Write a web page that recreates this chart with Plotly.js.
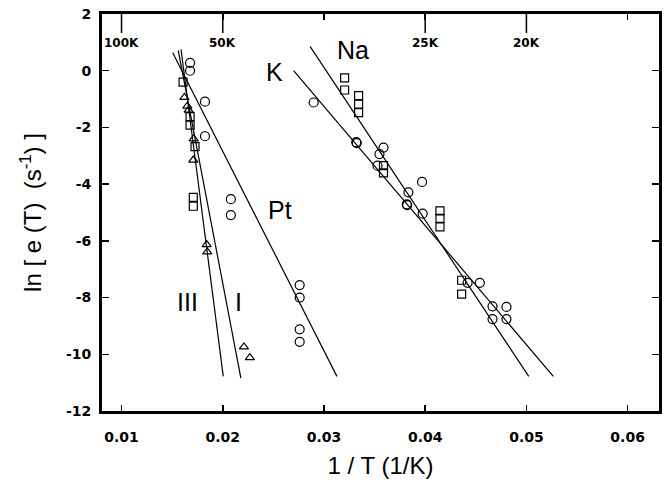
<!DOCTYPE html>
<html>
<head>
<meta charset="utf-8">
<script src="https://cdn.plot.ly/plotly-3.0.1.min.js"></script>
<style>html,body{margin:0;padding:0;background:#fff;}#chart{width:664px;height:487px;}</style>
</head>
<body>
<div id="chart"></div>
<script>
// ---- data (1/T in 1/K, ln e(T)) ----
// left cluster
const ptCircX = [0.01677, 0.01677, 0.01824, 0.01824, 0.0208, 0.0208, 0.0276, 0.0276, 0.0276, 0.0276];
const ptCircY = [0.28, 0.0, -1.09, -2.31, -4.53, -5.09, -7.56, -8.0, -9.12, -9.56];
const leftSqX = [0.01608, 0.01677, 0.01677, 0.01726, 0.01709, 0.01709];
const leftSqY = [-0.40, -1.62, -1.92, -2.68, -4.47, -4.78];
const triX = [0.01621, 0.0165, 0.01663, 0.01713, 0.01709, 0.01841, 0.01847, 0.02209, 0.02268];
const triY = [-0.94, -1.25, -1.39, -2.4, -3.15, -6.13, -6.39, -9.74, -10.12];
// right cluster
const rCircX = [0.02898, 0.03319, 0.03324, 0.03588, 0.03548, 0.03529, 0.03969, 0.03834, 0.03818, 0.03822, 0.03975, 0.04419, 0.0454, 0.04665, 0.04665, 0.04803, 0.04803];
const rCircY = [-1.12, -2.52, -2.55, -2.71, -2.94, -3.35, -3.92, -4.29, -4.71, -4.74, -5.04, -7.48, -7.48, -8.31, -8.76, -8.33, -8.76];
const rSqX = [0.03204, 0.03204, 0.03342, 0.03342, 0.03342, 0.03588, 0.03588, 0.04146, 0.04146, 0.04146, 0.0436, 0.0436];
const rSqY = [-0.25, -0.68, -0.88, -1.18, -1.48, -3.35, -3.6, -4.94, -5.21, -5.51, -7.39, -7.88];
// fitted lines (end points)
const lineIIIX = [0.01588, 0.02005];
const lineIIIY = [0.75, -10.78];
const lineIX = [0.01560, 0.02179];
const lineIY = [0.72, -10.84];
const linePtX = [0.01506, 0.03128];
const linePtY = [0.635, -10.78];
const lineNaX = [0.02864, 0.05023];
const lineNaY = [0.85, -10.78];
const lineKX = [0.0270, 0.05266];
const lineKY = [0.0, -10.78];
// ticks
const xTickVals = [0.01, 0.02, 0.03, 0.04, 0.05, 0.06];
const xTickText = ['0.01', '0.02', '0.03', '0.04', '0.05', '0.06'];
const topTickVals = [0.01, 0.02, 0.04, 0.05];
const topTickText = ['100K', '50K', '25K', '20K'];
const yTickVals = [-12, -10, -8, -6, -4, -2, 0, 2];
const yTickText = ['-12', '-10', '-8', '-6', '-4', '-2', '0', '2'];
// labels
const labelText = ['Na', 'K', 'Pt', 'III', 'I'];
const labelX = [0.03284, 0.02507, 0.02564, 0.01654, 0.0216];
const labelY = [0.73, -0.04, -4.9, -8.17, -8.17];

const lineStyle = {color: '#000', width: 1.2};
function ln(x, y) { return {x: x, y: y, mode: 'lines', line: lineStyle, hoverinfo: 'skip', showlegend: false}; }
function mk(x, y, sym, size) {
  return {x: x, y: y, mode: 'markers', showlegend: false,
    marker: {symbol: sym, size: size, color: '#000', line: {color: '#000', width: 1.2}}};
}
const traces = [
  ln(lineIIIX, lineIIIY), ln(lineIX, lineIY), ln(linePtX, linePtY), ln(lineNaX, lineNaY), ln(lineKX, lineKY),
  mk(ptCircX, ptCircY, 'circle-open', 9),
  mk(leftSqX, leftSqY, 'square-open', 8),
  mk(triX, triY, 'triangle-up-open', 8),
  mk(rCircX, rCircY, 'circle-open', 9),
  mk(rSqX, rSqY, 'square-open', 8)
];
const tickFont = {family: 'DejaVu Sans', size: 14, color: '#000', weight: 'bold'};
const xr = [0.00807, 0.0631];
const plotH = 487 - 14 - 76;
const annotations = labelText.map((t, i) => ({
  x: labelX[i], y: labelY[i], xref: 'x', yref: 'y', text: t, showarrow: false,
  font: {family: 'Liberation Sans', size: 25, color: '#000'}, xanchor: 'center', yanchor: 'middle'
})).concat(topTickText.map((t, i) => ({
  x: topTickVals[i], y: 1 - 29 / plotH, xref: 'x', yref: 'paper', text: t, showarrow: false,
  font: {family: 'DejaVu Sans', size: 12, color: '#000', weight: 'bold'}, xanchor: 'center', yanchor: 'middle'
})));
const shapes = topTickVals.map(v => ({
  type: 'line', xref: 'x', yref: 'paper', x0: v, x1: v, y0: 1, y1: 1 - 19 / plotH,
  line: {color: '#000', width: 1.5}
}));
const layout = {
  width: 664, height: 487,
  margin: {l: 102, r: 5, t: 14, b: 76},
  paper_bgcolor: '#fff', plot_bgcolor: '#fff',
  showlegend: false,
  xaxis: {
    range: xr, tickmode: 'array', tickvals: xTickVals, ticktext: xTickText,
    ticks: 'inside', ticklen: 6, tickwidth: 1.5, tickcolor: '#000',
    showline: true, linewidth: 3, linecolor: '#000', mirror: 'ticks',
    showgrid: false, zeroline: false, tickfont: tickFont, ticklabelstandoff: 11,
    title: {text: '1 / T (1/K)', font: {family: 'Liberation Sans', size: 24, color: '#000'}, standoff: 14}
  },
  yaxis: {
    range: [-12.001, 2.001], tickmode: 'array', tickvals: yTickVals, ticktext: yTickText,
    ticks: 'inside', ticklen: 7, tickwidth: 1.5, tickcolor: '#000',
    showline: true, linewidth: 3, linecolor: '#000', mirror: 'ticks',
    showgrid: false, zeroline: false, tickfont: tickFont, ticklabelstandoff: 5,
    title: {text: 'ln [ e (T)  (s<sup>-1</sup>) ]', font: {family: 'Liberation Sans', size: 24, color: '#000'}, standoff: 18}
  },
  annotations: annotations,
  shapes: shapes
};
Plotly.newPlot('chart', traces, layout, {staticPlot: true, displayModeBar: false});
</script>
</body>
</html>
